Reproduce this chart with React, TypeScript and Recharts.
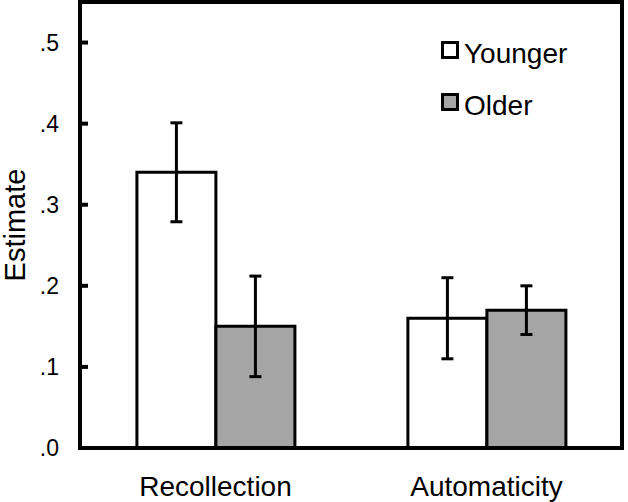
import { BarChart, Bar, XAxis, YAxis, ErrorBar, Legend, ReferenceArea } from 'recharts'

const categories = ['Recollection', 'Automaticity']
const seriesNames = ['Younger', 'Older']
const youngerValues = [0.34, 0.16]
const youngerErrors = [0.061, 0.05]
const olderValues = [0.15, 0.17]
const olderErrors = [0.062, 0.03]
const yTicks = [0, 0.1, 0.2, 0.3, 0.4, 0.5]

const data = categories.map((name, i) => ({
  name,
  Younger: youngerValues[i],
  youngerErr: youngerErrors[i],
  Older: olderValues[i],
  olderErr: olderErrors[i],
}))

const font = '"Liberation Sans", Arial, sans-serif'

// legend drawn as two stacked boxes, kept in series order
const LegendBox = ({ payload }: any) => {
  const items = [...(payload || [])].sort(
    (a: any, b: any) => seriesNames.indexOf(a.value) - seriesNames.indexOf(b.value)
  )
  return (
    <div style={{ fontFamily: font }}>
      {items.map((entry: any) => (
        <div key={entry.value} style={{ display: 'flex', alignItems: 'center', height: 52 }}>
          <span
            style={{
              width: 12,
              height: 12,
              border: '3px solid #000',
              background: entry.payload.fill,
              marginRight: 5,
              marginTop: -4,
            }}
          />
          <span style={{ fontSize: 28, color: '#000', position: 'relative', top: 2 }}>{entry.value}</span>
        </div>
      ))}
    </div>
  )
}

const App = () => {
  return (
    <div style={{ position: 'absolute', left: 0, top: 0, fontFamily: font, background: '#fff' }}>
      <BarChart
        width={628}
        height={502}
        data={data}
        margin={{ top: 2, right: 6, left: 0, bottom: 0 }}
        barCategoryGap="21%"
        barGap={0}
      >
        <XAxis
          dataKey="name"
          height={54}
          axisLine={{ stroke: '#000', strokeWidth: 4 }}
          tickLine={false}
          tickSize={0}
          tickMargin={28}
          tick={{ fill: '#000', fontSize: 28, fontFamily: font }}
        />
        <YAxis
          width={80}
          domain={[0, 0.55]}
          ticks={yTicks}
          allowDataOverflow
          axisLine={{ stroke: '#000', strokeWidth: 4 }}
          tickLine={{ stroke: '#000', strokeWidth: 4 }}
          tickSize={-8}
          tickMargin={29}
          tick={{ fill: '#000', fontSize: 23, fontFamily: font }}
          tickFormatter={(v: number) => v.toFixed(1).replace(/^0/, '')}
          label={{ value: 'Estimate', angle: -90, position: 'insideLeft', offset: 15, textAnchor: 'middle',
            style: { fontSize: 29, fill: '#000', fontFamily: font } }}
        />
        <Legend
          layout="horizontal"
          verticalAlign="middle"
          align="center"
          content={<LegendBox />}
          wrapperStyle={{ top: 26, left: 441, width: 160 }}
        />
        <Bar dataKey="Younger" fill="#ffffff" stroke="#000" strokeWidth={3} isAnimationActive={false}>
          <ErrorBar dataKey="youngerErr" width={6} stroke="#000" strokeWidth={3} />
        </Bar>
        <Bar dataKey="Older" fill="#a5a5a5" stroke="#000" strokeWidth={3} isAnimationActive={false}>
          <ErrorBar dataKey="olderErr" width={6} stroke="#000" strokeWidth={3} />
        </Bar>
        <ReferenceArea y1={0} y2={0.55} fill="none" stroke="#000" strokeWidth={4} fillOpacity={0} />
      </BarChart>
    </div>
  )
}

export default App
